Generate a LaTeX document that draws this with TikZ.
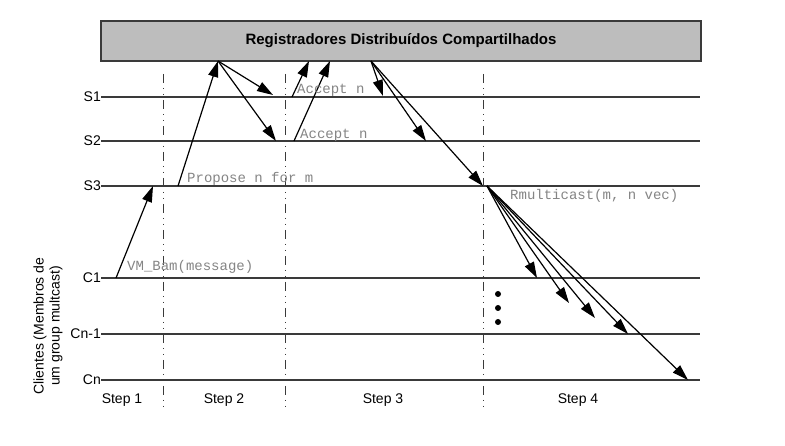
\documentclass[tikz,border=0pt]{standalone}
\usepackage{fontspec}
\setmainfont{Liberation Sans}
\newfontfamily\codefont{Liberation Mono}
\usetikzlibrary{arrows.meta}
\definecolor{boxgray}{HTML}{BDBDBD}
\definecolor{linegray}{HTML}{3A3A3A}
\definecolor{msggray}{HTML}{858585}
\tikzset{
  lbl/.style={font=\fontsize{14}{16}\selectfont, inner sep=0pt},
  timeline/.style={draw=linegray, line width=1.2pt},
  divider/.style={draw=linegray, line width=1pt, dash pattern=on 9pt off 5pt on 1pt off 5pt on 1pt off 5pt},
  msg/.style={draw=black, line width=1.2pt, -{Triangle[length=16pt, width=10pt]}},
  msgtext/.style={font=\codefont\fontsize{14}{16}\selectfont, text=msggray, inner sep=0pt, anchor=base west},
  steplbl/.style={font=\fontsize{14}{16}\selectfont, inner sep=0pt, anchor=base},
  dotmark/.style={fill=black, circle, inner sep=0pt, minimum size=6pt}
}
\begin{document}
\begin{tikzpicture}[x=1pt, y=-1pt]
\useasboundingbox[fill=white] (0,0) rectangle (785,446);

% shared register box
\node[draw=linegray, fill=boxgray, line width=1.3pt, minimum width=600pt, minimum height=40pt,
      font=\bfseries\fontsize{15}{18}\selectfont, inner sep=0pt] (reg) at (401,41)
      {Registradores Distribuídos Compartilhados};

% process labels and timelines
\foreach \name/\txt/\yy in {S1/S1/97, S2/S2/141, S3/S3/186, C1/C1/278, Cn1/Cn-1/334, Cn/Cn/380}{
  \node[lbl, anchor=east] (\name) at (101,\yy) {\txt};
  \coordinate (\name end) at (700,\yy);
  \draw[timeline] (\name.east) -- (\name end);
}

% vertical axis title
\node[lbl, rotate=90, align=center] (axis) at (48,326) {Clientes (Membros de\\um group multcast)};

% step dividers
\foreach \nm/\xx in {d1/163, d2/285, d3/483}{
  \coordinate (\nm top) at (\xx,74);
  \coordinate (\nm bot) at (\xx,411);
  \draw[divider] (\nm top) -- (\nm bot);
}

% step labels
\node[steplbl] (st1) at (122,404) {Step 1};
\node[steplbl] (st2) at (224,404) {Step 2};
\node[steplbl] (st3) at (383,404) {Step 3};
\node[steplbl] (st4) at (578,404) {Step 4};

% message end points
\coordinate (c1out) at (116,278);
\coordinate (s3in) at (153,186);
\coordinate (s3out) at (178,186);
\coordinate (regA) at (218,61);
\coordinate (s1inA) at (273,95);
\coordinate (s2inA) at (276,141);
\coordinate (s1out) at (292,97);
\coordinate (s2out) at (294,141);
\coordinate (regB) at (309,61);
\coordinate (regC) at (330,61);
\coordinate (regD) at (371,61);
\coordinate (s1inB) at (383,96);
\coordinate (s2inB) at (426,141);
\coordinate (s3inB) at (483,186);
\coordinate (mc) at (487,186);
\coordinate (mcA) at (537,278);
\coordinate (mcB) at (569,303);
\coordinate (mcC) at (595,318);
\coordinate (mcD) at (628,334);
\coordinate (mcE) at (688,380);

% step 1 and 2
\draw[msg] (c1out) -- (s3in);
\draw[msg] (s3out) -- (regA);
\draw[msg] (regA) -- (s1inA);
\draw[msg] (regA) -- (s2inA);
% step 3
\draw[msg] (s1out) -- (regB);
\draw[msg] (s2out) -- (regC);
\draw[msg] (regD) -- (s1inB);
\draw[msg] (regD) -- (s2inB);
\draw[msg] (regD) -- (s3inB);
% step 4: multicast
\foreach \t in {mcA, mcB, mcC, mcD, mcE}{
  \draw[msg] (mc) -- (\t);
}

% message labels
\node[msgtext] (t1) at (127,271) {VM\_Bam(message)};
\node[msgtext] (t2) at (187,183) {Propose n for m};
\node[msgtext] (t3) at (297,94) {Accept n};
\node[msgtext] (t4) at (300,139) {Accept n};
\node[msgtext] (t5) at (510,200) {Rmulticast(m, n vec)};

% ellipsis between clients
\node[dotmark] (e1) at (498,294) {};
\node[dotmark] (e2) at (498,308) {};
\node[dotmark] (e3) at (498,322) {};
\end{tikzpicture}
\end{document}
